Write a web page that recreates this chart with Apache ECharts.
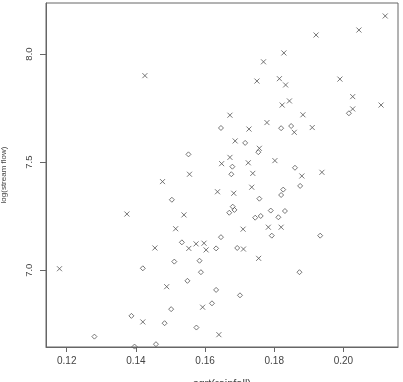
<!DOCTYPE html>
<html>
<head>
<meta charset="utf-8">
<script src="https://cdn.jsdelivr.net/npm/echarts@6/dist/echarts.min.js"></script>
<style>html,body{margin:0;padding:0;background:#fff}#c{width:403px;height:382px}</style>
</head>
<body>
<div id="c"></div>
<script>
const xTicks = [0.12, 0.14, 0.16, 0.18, 0.20];
const yTicks = [7.0, 7.5, 8.0];

const crossX = [0.2121,0.2045,0.1921,0.1828,0.1769,0.1426,0.1815,0.1750,0.1833,0.1990,
  0.2027,0.1844,0.1823,0.2109,0.2027,0.1672,0.1883,0.1779,0.1910,0.1727,
  0.1687,0.1757,0.1858,0.1672,0.1648,0.1725,0.1802,0.1555,0.1738,0.1880,
  0.1938,0.1477,0.1735,0.1636,0.1683,0.1374,0.1539,0.1515,0.1710,0.1783,
  0.1820,0.1574,0.1597,0.1455,0.1553,0.1603,0.1711,0.1755,0.1179,0.1489,
  0.1593,0.1420,0.1640];
const crossY = [8.176,8.111,8.088,8.005,7.964,7.900,7.886,7.875,7.857,7.884,
  7.803,7.783,7.764,7.764,7.746,7.717,7.719,7.683,7.660,7.653,
  7.598,7.564,7.638,7.522,7.493,7.497,7.507,7.444,7.448,7.436,
  7.453,7.410,7.384,7.363,7.356,7.260,7.256,7.192,7.190,7.199,
  7.199,7.122,7.125,7.103,7.101,7.094,7.098,7.055,7.007,6.924,
  6.829,6.761,6.702];

const diamondX = [0.2016,0.1820,0.1849,0.1646,0.1716,0.1754,0.1552,0.1679,0.1676,0.1860,
  0.1504,0.1757,0.1875,0.1826,0.1820,0.1680,0.1685,0.1670,0.1790,0.1831,
  0.1745,0.1761,0.1812,0.1646,0.1793,0.1933,0.1533,0.1632,0.1693,0.1511,
  0.1584,0.1420,0.1588,0.1873,0.1549,0.1632,0.1701,0.1620,0.1502,0.1387,
  0.1483,0.1575,0.1280,0.1458,0.1396];
const diamondY = [7.726,7.657,7.667,7.658,7.589,7.546,7.536,7.479,7.444,7.474,
  7.326,7.331,7.390,7.373,7.348,7.294,7.279,7.266,7.276,7.274,
  7.243,7.251,7.245,7.153,7.160,7.160,7.129,7.101,7.103,7.040,
  7.044,7.009,6.991,6.991,6.951,6.909,6.884,6.847,6.820,6.789,
  6.755,6.735,6.693,6.658,6.647];

const zip = (a, b) => a.map((v, i) => [v, b[i]]);
const font = 'Liberation Sans';
const ink = '#444';

const chart = echarts.init(document.getElementById('c'), null, {renderer: 'canvas'});
chart.setOption({
  animation: false,
  backgroundColor: '#fff',
  grid: {left: 46, right: 5, top: 3, bottom: 35, outerBoundsMode: 'none', containLabel: false,
    show: true, borderColor: '#666', borderWidth: 1, backgroundColor: 'transparent'},
  xAxis: {
    type: 'value', min: 0.114, max: 0.2158,
    name: 'sqrt(rainfall)', nameLocation: 'middle', nameGap: 31,
    nameTextStyle: {fontFamily: font, fontSize: 11, color: ink, verticalAlign: 'top'},
    axisLine: {show: true, lineStyle: {color: '#666'}},
    axisTick: {show: true, inside: false, length: 5, customValues: xTicks, lineStyle: {color: '#666'}},
    axisLabel: {customValues: xTicks, margin: 9, fontFamily: font, fontSize: 10, color: ink,
      formatter: v => v.toFixed(2)},
    splitLine: {show: false}
  },
  yAxis: {
    type: 'value', min: 6.645, max: 8.236,
    name: 'log(stream flow)', nameLocation: 'middle', nameGap: 38,
    nameTextStyle: {fontFamily: font, fontSize: 8, color: ink},
    axisLine: {show: true, lineStyle: {color: '#666'}},
    axisTick: {show: true, inside: false, length: 6, customValues: yTicks, lineStyle: {color: '#666'}},
    axisLabel: {customValues: yTicks, rotate: 90, margin: 12, fontFamily: font, fontSize: 9.5, color: ink,
      formatter: v => v.toFixed(1)},
    splitLine: {show: false}
  },
  series: [
    {
      type: 'scatter', data: zip(crossX, crossY), clip: false,
      symbol: 'path://M0,0L10,10M10,0L0,10', symbolSize: 5,
      itemStyle: {color: 'none', borderColor: '#555', borderWidth: 1}
    },
    {
      type: 'scatter', data: zip(diamondX, diamondY), clip: false,
      symbol: 'diamond', symbolSize: [5, 5],
      itemStyle: {color: 'none', borderColor: '#555', borderWidth: 1}
    }
  ]
});
</script>
</body>
</html>
